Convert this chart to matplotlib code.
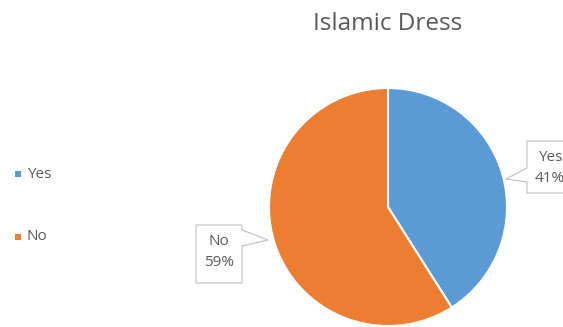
import matplotlib
matplotlib.use("Agg")
import matplotlib.pyplot as plt
from matplotlib.patches import Polygon, Rectangle

categories = ["Yes", "No"]
values = [41, 59]
colors = ["#5B9BD5", "#ED7D31"]
title = "Islamic Dress"

W, H = 563, 327
fig = plt.figure(figsize=(W / 100, H / 100), dpi=100)
fig.patch.set_facecolor("white")
plt.rcParams['font.family'] = ['Open Sans', 'DejaVu Sans']

def fx(x):
    return x / W

def fy(y):
    return 1 - y / H

cx, cy, r = 388, 207, 119
ax = fig.add_axes([fx(cx - r), fy(cy + r), 2 * r / W, 2 * r / H])
wedges, _ = ax.pie(values, colors=colors, startangle=90, counterclock=False,
                   wedgeprops=dict(edgecolor="white", linewidth=1.5))
ax.set_aspect("equal")
ax.set_xlim(-1, 1)
ax.set_ylim(-1, 1)
ax.axis("off")

fig.text(fx(388), fy(24), title, ha="center", va="center", fontsize=17.5, color="#595959")

# callouts
def callout(pts, text_xy, text):
    poly = Polygon([(fx(x), fy(y)) for x, y in pts], closed=True, transform=fig.transFigure,
                   facecolor="white", edgecolor="#BFBFBF", linewidth=0.8, clip_on=False)
    fig.add_artist(poly)
    fig.text(fx(text_xy[0]), fy(text_xy[1]), text, ha="center", va="center",
             fontsize=11, color="#595959", linespacing=1.5)

pct = [f"{v}%" for v in values]
callout([(527, 141), (600, 141), (600, 193), (527, 193), (527, 182), (506, 179), (527, 168)],
        (550, 168), f"{categories[0]}\n{pct[0]}")
callout([(196, 225), (242, 225), (242, 230), (268, 240), (242, 246), (242, 283), (196, 283)],
        (219, 252), f"{categories[1]}\n{pct[1]}")

# legend
for i, (c, lab) in enumerate(zip(colors, categories)):
    y = 174 + i * 63
    fig.add_artist(Rectangle((fx(15), fy(y + 3)), 6 / W, 6 / H, transform=fig.transFigure,
                             facecolor=c, edgecolor="none"))
    fig.text(fx(27), fy(y), lab, ha="left", va="center", fontsize=11, color="#595959")

fig.savefig("out.png", dpi=100, facecolor="white")
